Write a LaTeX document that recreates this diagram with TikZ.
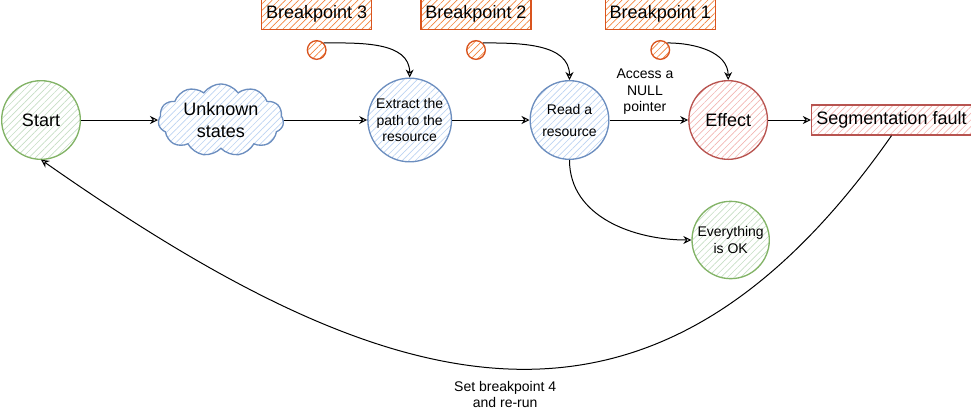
\documentclass[tikz,border=0pt]{standalone}
\usepackage{fontspec}
\setmainfont{Liberation Sans}
\usetikzlibrary{positioning,arrows.meta,shapes.symbols,patterns.meta}
\definecolor{okline}{HTML}{82B366}
\definecolor{okfill}{HTML}{C6DEC4}
\definecolor{unkline}{HTML}{6C8EBF}
\definecolor{unkfill}{HTML}{BCD3F2}
\definecolor{errline}{HTML}{B85450}
\definecolor{errfill}{HTML}{F2B5B2}
\definecolor{bpline}{HTML}{D9541E}
\definecolor{bpfill}{HTML}{F2853E}

\begin{document}
\begin{tikzpicture}[x=1pt, y=1pt,
  hatch/.style={pattern={Lines[angle=45, distance=3.5pt, line width=0.5pt]}},
  state/.style={circle, draw, line width=1pt, hatch, minimum size=59pt, inner sep=1pt, align=center, font=\fontsize{10.5}{12.6}\selectfont},
  big/.style={font=\fontsize{13.5}{16.2}\selectfont},
  okstate/.style={state, draw=okline, pattern color=okfill},
  unkstate/.style={state, draw=unkline, pattern color=unkfill},
  errstate/.style={state, draw=errline, pattern color=errfill},
  unkcloud/.style={cloud, cloud puffs=11, cloud puff arc=110, aspect=1.8, draw=unkline, line width=1pt, hatch, pattern color=unkfill, minimum width=94pt, minimum height=52pt, inner sep=0pt, align=center, big},
  errbox/.style={draw=errline, line width=1pt, hatch, pattern color=errfill, minimum width=120pt, minimum height=22.5pt, inner sep=2pt, big},
  bpbox/.style={draw=bpline, line width=1pt, hatch, pattern color=bpfill, minimum width=82.5pt, minimum height=22.5pt, inner sep=2pt, big},
  bpdot/.style={circle, draw=bpline, line width=1pt, hatch, pattern color=bpfill, minimum size=14pt, inner sep=0pt},
  arr/.style={-{Stealth[length=6pt, width=6pt, inset=2pt, fill=white]}, line width=0.75pt},
  lbl/.style={align=center, inner sep=2pt, font=\fontsize{10.5}{12.6}\selectfont}
]
\useasboundingbox (0,0) rectangle (728.25,-308.25);

\node[okstate, big] (start) at (30.75,-90) {Start};
\node[unkcloud, right=58pt of start] (unknown) {Unknown\\states};
\node[unkstate, right=62.5pt of unknown] (extract) {Extract the\\path to the\\resource};
\node[unkstate, right=58pt of extract, font=\fontsize{10.5}{16.5}\selectfont] (read) {Read a\\resource};
\node[errstate, big, right=59pt of read] (effect) {Effect};
\node[errbox, right=32pt of effect] (segfault) {Segmentation fault};
\node[okstate, minimum size=58pt] (ok) at (548,-180) {Everything\\is OK};

\node[bpdot] (dot3) at (237.5,-37.5) {};
\node[bpdot] (dot2) at (357,-37.5) {};
\node[bpdot] (dot1) at (495.2,-37.5) {};
\node[bpbox, above=7.5pt of dot3] (bp3) {Breakpoint 3};
\node[bpbox, above=7.5pt of dot2] (bp2) {Breakpoint 2};
\node[bpbox, above=7.5pt of dot1] (bp1) {Breakpoint 1};

\draw[arr] (start) -- (unknown);
\draw[arr] (unknown) -- (extract);
\draw[arr] (extract) -- (read);
\draw[arr] (read) -- (effect)
  node[lbl, pos=0.45, above=1.5pt] {Access a\\NULL\\pointer};
\draw[arr] (effect) -- (segfault);
\draw[arr] (read.south) to[out=-90, in=180] (ok.west);

\draw[arr] (dot3.north east) to[out=0, in=90] (extract.north);
\draw[arr] (dot2.north east) to[out=0, in=90] (read.north);
\draw[arr] (dot1.north east) to[out=0, in=90] (effect.north);

\draw[arr] (segfault.south) to[out=-125, in=-35, looseness=1.27]
  node[lbl, below=7pt] {Set breakpoint 4\\and re-run} (start.south);

\end{tikzpicture}
\end{document}
